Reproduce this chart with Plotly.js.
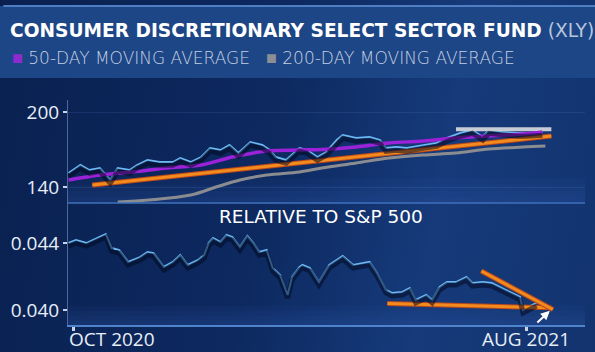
<!DOCTYPE html>
<html>
<head>
<meta charset="utf-8">
<script src="https://cdn.plot.ly/plotly-3.0.1.min.js"></script>
<style>
  html, body { margin:0; padding:0; width:595px; height:352px; overflow:hidden;
    background: linear-gradient(100deg, #0a2150 0%, #0d2960 45%, #163a7a 72%, #12336e 100%); }
  #chart { width:595px; height:352px; }
</style>
</head>
<body>
<div id="chart"></div>
<script>
// ---- data ----
const priceDates = ['2020-09-28','2020-10-06','2020-10-12','2020-10-19','2020-10-26','2020-10-31','2020-11-08','2020-11-13','2020-11-20','2020-11-28','2020-12-07','2020-12-12','2020-12-19','2020-12-26','2021-01-01','2021-01-08','2021-01-14','2021-01-20','2021-01-28','2021-02-05','2021-02-10','2021-02-14','2021-02-21','2021-02-25','2021-03-02','2021-03-07','2021-03-14','2021-03-20','2021-03-27','2021-03-31','2021-04-09','2021-04-18','2021-04-25','2021-04-29','2021-05-06','2021-05-13','2021-05-24','2021-06-02','2021-06-09','2021-06-18','2021-06-26','2021-07-03','2021-07-07','2021-07-16','2021-07-26','2021-08-01','2021-08-08','2021-08-12'];
const priceVals = [151.2,157.6,153.6,155.2,145.6,155.2,153.6,157.6,161.6,160,160,163.2,160,164,171.2,169.6,173.6,167.2,176,173.6,169.6,164,161.6,165.6,171.2,169.6,164,168,177.6,181.6,179.2,180,177.6,171.2,172,171.2,173.6,175.2,179.2,183.2,185.6,180,185.6,184,183.2,183.2,183.2,184];

const ma50Dates = ['2020-09-28','2020-10-19','2020-11-10','2020-12-03','2020-12-26','2021-01-16','2021-02-08','2021-03-02','2021-03-17','2021-04-09','2021-05-01','2021-05-24','2021-06-15','2021-07-07','2021-07-30','2021-08-12'];
const ma50Vals = [145.6,149.6,152,155.2,157.6,164,168.8,169.6,170,172,175.2,176.8,179.2,180.8,182.4,184];

const ma200Dates = ['2020-10-31','2020-11-21','2020-12-19','2021-01-05','2021-01-21','2021-02-08','2021-03-02','2021-03-17','2021-04-09','2021-05-01','2021-05-24','2021-06-15','2021-07-07','2021-07-30','2021-08-14'];
const ma200Vals = [128,129.6,133.6,140,145.6,149.6,152,155.2,159.2,163.2,165.6,167.2,170.4,172,172.8];

const trendTopDates = ['2020-10-14','2021-08-18'];
const trendTopVals = [141.6,180.8];
const resistDates = ['2021-06-15','2021-08-18'];
const resistVals = [186.3,186.3];

const relDates = ['2020-09-28','2020-10-03','2020-10-10','2020-10-17','2020-10-23','2020-10-27','2020-11-01','2020-11-07','2020-11-15','2020-11-20','2020-11-24','2020-12-01','2020-12-07','2020-12-12','2020-12-17','2020-12-24','2020-12-28','2020-12-31','2021-01-03','2021-01-08','2021-01-12','2021-01-16','2021-01-21','2021-01-26','2021-01-30','2021-02-03','2021-02-08','2021-02-12','2021-02-17','2021-02-22','2021-02-25','2021-03-02','2021-03-04','2021-03-09','2021-03-15','2021-03-22','2021-03-31','2021-04-07','2021-04-18','2021-04-23','2021-04-29','2021-05-03','2021-05-10','2021-05-15','2021-05-19','2021-05-26','2021-05-30','2021-06-04','2021-06-09','2021-06-15','2021-06-22','2021-06-26','2021-07-03','2021-07-09','2021-07-16','2021-07-23','2021-07-28','2021-07-30','2021-08-03','2021-08-08'];
const relVals = [0.0440,0.04418,0.0440,0.0443,0.04454,0.0437,0.04358,0.04287,0.04316,0.04346,0.0434,0.04257,0.04287,0.04328,0.04269,0.04299,0.04328,0.0440,0.0443,0.04406,0.04448,0.04436,0.04376,0.04442,0.0440,0.04346,0.04358,0.04251,0.04209,0.0409,0.04197,0.04257,0.04269,0.04251,0.04167,0.04269,0.04322,0.04269,0.04287,0.04221,0.0412,0.04102,0.04108,0.04131,0.0406,0.0409,0.0406,0.04137,0.04167,0.04167,0.04197,0.04161,0.04167,0.04161,0.04131,0.04102,0.04078,0.0400,0.04018,0.04042];

const supportDates = ['2021-04-30','2021-08-18'];
const supportVals = [0.04039,0.04013];
const fallDates = ['2021-07-02','2021-08-19'];
const fallVals = [0.04233,0.04003];

const topTicks = [140, 200];
const botTicks = [0.040, 0.044];
const xLabels = ['OCT 2020', 'AUG 2021'];
const xLabelDates = ['2020-10-01', '2021-08-01'];

const title = 'CONSUMER DISCRETIONARY SELECT SECTOR FUND';
const titleTicker = '(XLY)';
const legendNames = ['50-DAY MOVING AVERAGE', '200-DAY MOVING AVERAGE'];
const subTitle = 'RELATIVE TO S&P 500';

// ---- colours ----
const C = { price:'#6bb8f5', purple:'#9b22d8', orange:'#f28a1e', orangeEdge:'#b9481b', gray:'#8a8c90', resist:'#c6ccd6', shadow:'rgba(2,10,32,0.55)' };
const swatch = ['#8e2bd0', '#8d8f94'];

const topRange = [127.2, 209.6];
const botRange = [0.039104, 0.04639];
const shT = 2.6, shB = 0.00018;

const traces = [
  {x:priceDates, y:priceVals, xaxis:'x', yaxis:'y3', mode:'lines', line:{color:C.shadow, width:5}, hoverinfo:'skip'},
  {x:relDates, y:relVals, xaxis:'x', yaxis:'y4', mode:'lines', line:{color:C.shadow, width:5}, hoverinfo:'skip'},
  {x:ma200Dates, y:ma200Vals, xaxis:'x', yaxis:'y', mode:'lines', line:{color:C.gray, width:3, shape:'spline'}, name:legendNames[1]},
  {x:priceDates, y:priceVals, xaxis:'x', yaxis:'y', mode:'lines', line:{color:C.price, width:2}, name:'XLY'},
  {x:resistDates, y:resistVals, xaxis:'x', yaxis:'y', mode:'lines', line:{color:C.resist, width:4}},
  {x:ma50Dates, y:ma50Vals, xaxis:'x', yaxis:'y', mode:'lines', line:{color:C.purple, width:3.5, shape:'spline'}, name:legendNames[0]},
  {x:trendTopDates, y:trendTopVals, xaxis:'x', yaxis:'y', mode:'lines', line:{color:C.orangeEdge, width:5}},
  {x:trendTopDates, y:trendTopVals, xaxis:'x', yaxis:'y', mode:'lines', line:{color:C.orange, width:3}},
  {x:relDates, y:relVals, xaxis:'x', yaxis:'y2', mode:'lines', line:{color:C.price, width:2}, name:'Relative'},
  {x:supportDates, y:supportVals, xaxis:'x', yaxis:'y2', mode:'lines', line:{color:C.orangeEdge, width:5}},
  {x:supportDates, y:supportVals, xaxis:'x', yaxis:'y2', mode:'lines', line:{color:C.orange, width:3}},
  {x:fallDates, y:fallVals, xaxis:'x', yaxis:'y2', mode:'lines', line:{color:C.orangeEdge, width:5}},
  {x:fallDates, y:fallVals, xaxis:'x', yaxis:'y2', mode:'lines', line:{color:C.orange, width:3}}
];

const tickFont = {family:'Open Sans, sans-serif', size:19, color:'#e8eef8'};
const legendFont = {family:'DejaVu Sans, sans-serif', size:17, color:'#c6d0e2', weight:300};
const split = 0.542;

const glow = [];
[[split, 0.11], [0, 0.085]].forEach(([base, h]) => {
  for (let i = 0; i < 4; i++) {
    glow.push({type:'rect', xref:'paper', yref:'paper', x0:0, x1:1, y0:base, y1:base + h*(1 - i/4),
      fillcolor:'rgba(50,100,180,0.07)', line:{width:0}, layer:'below'});
  }
});

const layout = {
  width:595, height:352,
  margin:{l:68, r:10, t:100, b:27},
  paper_bgcolor:'rgba(0,0,0,0)', plot_bgcolor:'rgba(0,0,0,0)',
  showlegend:false,
  xaxis:{type:'date', range:['2020-09-27 15:27','2021-09-09 14:00'], anchor:'y2',
    showgrid:false, zeroline:false, showline:true, linecolor:'#4f83cc', linewidth:2,
    tickvals:xLabelDates, ticktext:['',''], ticks:'outside', ticklen:4, tickwidth:3, tickcolor:'#c9d4e6', showticklabels:false},
  yaxis:{domain:[split,1], range:topRange, tickvals:topTicks, ticktext:topTicks.map(String), tickfont:tickFont,
    showgrid:true, gridcolor:'rgba(90,130,200,0.18)', zeroline:false, showline:true, linecolor:'rgba(120,150,200,0.6)', linewidth:1,
    ticks:'outside', ticklen:4, tickwidth:2, tickcolor:'#c9d4e6'},
  yaxis2:{domain:[0,split], range:botRange, tickvals:botTicks, tickformat:'.3f', tickfont:tickFont,
    showgrid:false, zeroline:false, showline:true, linecolor:'rgba(120,150,200,0.6)', linewidth:1,
    ticks:'outside', ticklen:4, tickwidth:2, tickcolor:'#c9d4e6'},
  yaxis3:{domain:[split,1], range:[topRange[0]+shT, topRange[1]+shT], overlaying:'y', visible:false},
  yaxis4:{domain:[0,split], range:[botRange[0]+shB, botRange[1]+shB], overlaying:'y2', visible:false},
  shapes:[
    {type:'rect', xref:'paper', yref:'paper', x0:-0.2, x1:1.1, y0:1.098, y1:1.418, fillcolor:'#1d4686', line:{width:0}, layer:'below'},
    {type:'line', xref:'paper', yref:'paper', x0:-0.125, x1:1.1, y0:1.418, y1:1.418, line:{color:'#4f7fc2', width:2}},
    ...glow,
    {type:'line', xref:'paper', yref:'paper', x0:0, x1:1, y0:split, y1:split, line:{color:'#3f72bd', width:1.5}}
  ],
  annotations:[
    {xref:'paper', yref:'paper', x:(8-68)/517, y:1.307, xanchor:'left', yanchor:'middle', showarrow:false,
     text:'<b>'+title+'</b> <span style="color:#b9c7de">'+titleTicker+'</span>',
     font:{family:'DejaVu Sans, sans-serif', size:18.6, color:'#ffffff'}},
    {xref:'paper', yref:'paper', x:(10-68)/517, y:1.187, xanchor:'left', yanchor:'middle', showarrow:false,
     text:'<span style="color:'+swatch[0]+';font-size:18px">■</span> '+legendNames[0], font:legendFont},
    {xref:'paper', yref:'paper', x:(264-68)/517, y:1.187, xanchor:'left', yanchor:'middle', showarrow:false,
     text:'<span style="color:'+swatch[1]+';font-size:18px">■</span> '+legendNames[1], font:legendFont},
    {xref:'paper', yref:'paper', x:0.49, y:(325-216.5)/225, xanchor:'center', yanchor:'middle', showarrow:false,
     text:subTitle, font:{family:'DejaVu Sans, sans-serif', size:18.5, color:'#ffffff'}},
    {xref:'x', yref:'paper', x:xLabelDates[0], y:(325-339)/225, xanchor:'left', yanchor:'middle', xshift:-6, showarrow:false,
     text:xLabels[0], font:tickFont},
    {xref:'x', yref:'paper', x:xLabelDates[1], y:(325-339)/225, xanchor:'center', yanchor:'middle', showarrow:false,
     text:xLabels[1], font:tickFont},
    {xref:'x', yref:'y2', x:'2021-08-17', y:0.03995, ax:-14, ay:13, showarrow:true, arrowhead:2, arrowsize:0.9, arrowwidth:2, arrowcolor:'#ffffff', text:''}
  ]
};

Plotly.newPlot('chart', traces, layout, {displayModeBar:false, staticPlot:true});
</script>
</body>
</html>
